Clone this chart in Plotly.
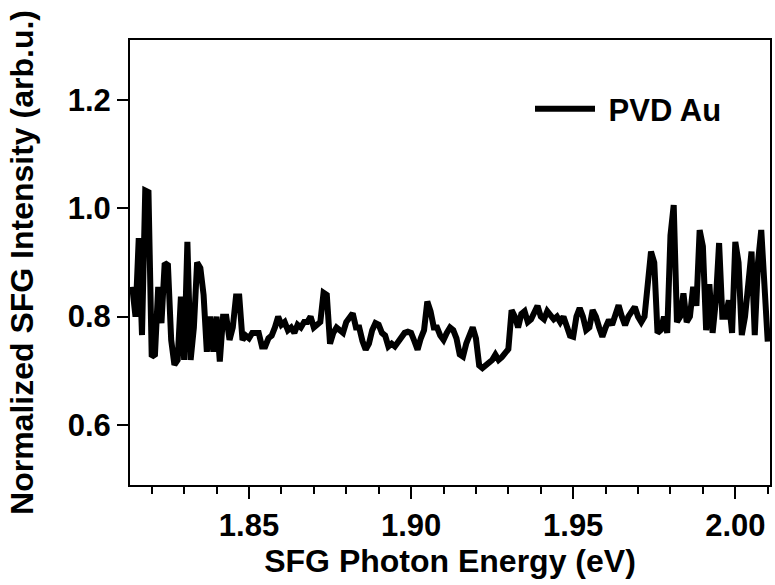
import plotly.graph_objects as go

energy_ev = [
    1.814, 1.815, 1.816, 1.817, 1.818, 1.819, 1.820, 1.821, 1.822, 1.823,
    1.824, 1.825, 1.826, 1.827, 1.828, 1.829, 1.830, 1.831, 1.832, 1.833,
    1.834, 1.835, 1.836, 1.837, 1.838, 1.839, 1.840, 1.841, 1.842, 1.843,
    1.844, 1.845, 1.846, 1.847, 1.848, 1.849, 1.850, 1.851, 1.852, 1.853,
    1.854, 1.855, 1.856, 1.857, 1.858, 1.859, 1.860, 1.861, 1.862, 1.863,
    1.864, 1.865, 1.866, 1.867, 1.868, 1.869, 1.870, 1.871, 1.872, 1.873,
    1.874, 1.875, 1.876, 1.877, 1.878, 1.879, 1.880, 1.881, 1.882, 1.883,
    1.884, 1.885, 1.886, 1.887, 1.888, 1.889, 1.890, 1.891, 1.892, 1.893,
    1.894, 1.895, 1.896, 1.897, 1.898, 1.899, 1.900, 1.901, 1.902, 1.903,
    1.904, 1.905, 1.906, 1.907, 1.908, 1.909, 1.910, 1.911, 1.912, 1.913,
    1.914, 1.915, 1.916, 1.917, 1.918, 1.919, 1.920, 1.921, 1.922, 1.923,
    1.924, 1.925, 1.926, 1.927, 1.928, 1.929, 1.930, 1.931, 1.932, 1.933,
    1.934, 1.935, 1.936, 1.937, 1.938, 1.939, 1.940, 1.941, 1.942, 1.943,
    1.944, 1.945, 1.946, 1.947, 1.948, 1.949, 1.950, 1.951, 1.952, 1.953,
    1.954, 1.955, 1.956, 1.957, 1.958, 1.959, 1.960, 1.961, 1.962, 1.963,
    1.964, 1.965, 1.966, 1.967, 1.968, 1.969, 1.970, 1.971, 1.972, 1.973,
    1.974, 1.975, 1.976, 1.977, 1.978, 1.979, 1.980, 1.981, 1.982, 1.983,
    1.984, 1.985, 1.986, 1.987, 1.988, 1.989, 1.990, 1.991, 1.992, 1.993,
    1.994, 1.995, 1.996, 1.997, 1.998, 1.999, 2.000, 2.001, 2.002, 2.003,
    2.004, 2.005, 2.006, 2.007, 2.008, 2.009, 2.010,
]

pvd_au = [
    0.855, 0.800, 0.945, 0.766, 1.033, 1.030, 0.726, 0.730, 0.855, 0.788,
    0.899, 0.895, 0.757, 0.711, 0.720, 0.837, 0.720, 0.938, 0.720, 0.780,
    0.900, 0.890, 0.840, 0.735, 0.800, 0.735, 0.800, 0.717, 0.800, 0.800,
    0.757, 0.780, 0.837, 0.837, 0.757, 0.765, 0.760, 0.770, 0.770, 0.770,
    0.745, 0.745, 0.760, 0.765, 0.780, 0.800, 0.785, 0.790, 0.775, 0.780,
    0.770, 0.785, 0.780, 0.790, 0.790, 0.800, 0.780, 0.785, 0.790, 0.844,
    0.840, 0.750, 0.770, 0.780, 0.775, 0.770, 0.790, 0.800, 0.806, 0.780,
    0.780, 0.755, 0.739, 0.750, 0.775, 0.788, 0.785, 0.770, 0.765, 0.745,
    0.750, 0.745, 0.755, 0.760, 0.770, 0.772, 0.770, 0.755, 0.739, 0.760,
    0.775, 0.828, 0.810, 0.780, 0.780, 0.765, 0.757, 0.770, 0.780, 0.775,
    0.760, 0.730, 0.726, 0.750, 0.765, 0.780, 0.760, 0.710, 0.705, 0.710,
    0.715, 0.720, 0.730, 0.720, 0.725, 0.735, 0.740, 0.812, 0.800, 0.780,
    0.805, 0.810, 0.790, 0.795, 0.810, 0.820, 0.800, 0.795, 0.810, 0.800,
    0.795, 0.800, 0.790, 0.800, 0.785, 0.765, 0.763, 0.800, 0.816, 0.800,
    0.775, 0.780, 0.812, 0.800, 0.780, 0.763, 0.780, 0.794, 0.785, 0.800,
    0.821, 0.800, 0.784, 0.800, 0.810, 0.818, 0.800, 0.790, 0.800, 0.860,
    0.920, 0.900, 0.770, 0.775, 0.800, 0.770, 0.950, 1.006, 0.790, 0.800,
    0.843, 0.790, 0.800, 0.855, 0.820, 0.960, 0.930, 0.775, 0.860, 0.770,
    0.830, 0.936, 0.800, 0.800, 0.830, 0.770, 0.938, 0.900, 0.766, 0.800,
    0.855, 0.920, 0.766, 0.900, 0.960, 0.850, 0.754,
]

x_range = [1.8133, 2.0107]
y_range = [0.489, 1.311]
y_ticks = [0.6, 0.8, 1.0, 1.2]
y_tick_text = ["0.6", "0.8", "1.0", "1.2"]
x_ticks = [1.85, 1.90, 1.95, 2.00]
x_tick_text = ["1.85", "1.90", "1.95", "2.00"]

FONT = "Liberation Sans"

fig = go.Figure()
fig.add_trace(go.Scatter(
    x=energy_ev, y=pvd_au, mode="lines", name=" PVD Au",
    line=dict(color="black", width=6),
))

fig.update_layout(
    width=775, height=585,
    margin=dict(l=130, r=3, t=40, b=100),
    paper_bgcolor="white", plot_bgcolor="white",
    font=dict(family=FONT, color="black", size=31, weight="bold"),
    showlegend=True,
    legend=dict(
        x=0.625, y=0.845, xanchor="left", yanchor="middle",
        bgcolor="rgba(0,0,0,0)", borderwidth=0,
        font=dict(family=FONT, size=31, color="black", weight="bold"),
        itemwidth=60,
    ),
)

fig.update_xaxes(
    range=x_range, tickvals=x_ticks, ticktext=x_tick_text,
    showline=True, linecolor="black", linewidth=2, mirror=True,
    ticks="outside", ticklen=12, tickwidth=2, tickcolor="black",
    minor=dict(dtick=0.01, tick0=1.85, ticks="outside", ticklen=7, tickwidth=2, tickcolor="black"),
    showgrid=False, zeroline=False,
    tickfont=dict(family=FONT, size=31, color="black", weight="bold"),
    title=dict(text="SFG Photon Energy (eV)", standoff=4,
               font=dict(family=FONT, size=32, color="black", weight="bold")),
)
fig.update_yaxes(
    range=y_range, tickvals=y_ticks, ticktext=y_tick_text,
    showline=True, linecolor="black", linewidth=2, mirror=True,
    ticks="outside", ticklen=11, tickwidth=2, tickcolor="black",
    showgrid=False, zeroline=False,
    tickfont=dict(family=FONT, size=31, color="black", weight="bold"),
    title=dict(text="Normalized SFG Intensity (arb.u.)", standoff=24,
               font=dict(family=FONT, size=32, color="black", weight="bold")),
)

fig.write_html("out.html")
